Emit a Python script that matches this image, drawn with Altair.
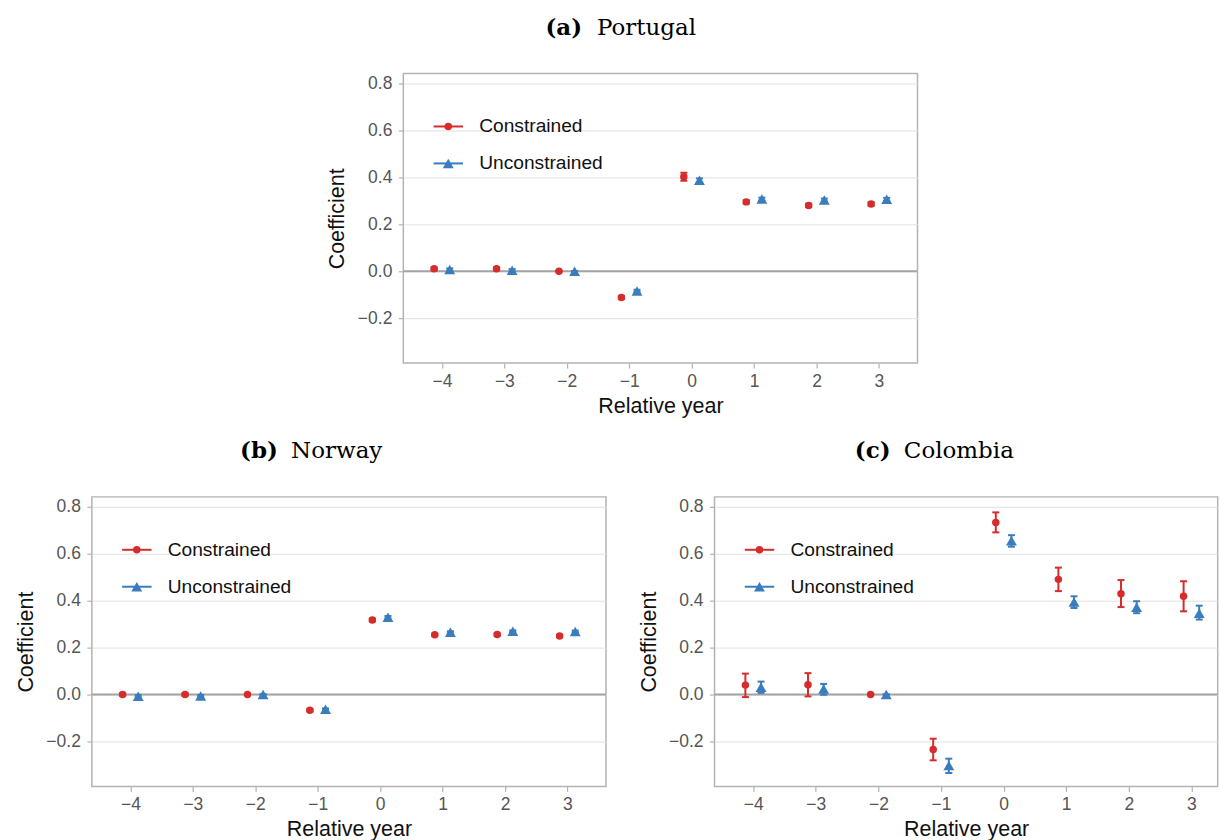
import altair as alt
import pandas as pd

# ---- shared settings -------------------------------------------------------
years = [-4, -3, -2, -1, 0, 1, 2, 3]
series_names = ["Constrained", "Unconstrained"]
series_colors = ["#d62c2c", "#3a7dbc"]
series_shapes = ["circle", "triangle-up"]
series_sizes = [56, 120]
y_ticks = [-0.2, 0.0, 0.2, 0.4, 0.6, 0.8]

# ---- (a) Portugal ----------------------------------------------------------
pt_con = [0.010, 0.010, 0.000, -0.112, 0.402, 0.295, 0.280, 0.286]
pt_con_lo = [0.004, 0.004, 0.000, -0.118, 0.385, 0.288, 0.273, 0.279]
pt_con_hi = [0.016, 0.016, 0.000, -0.106, 0.419, 0.302, 0.287, 0.293]
pt_unc = [0.007, 0.004, 0.000, -0.084, 0.387, 0.307, 0.303, 0.306]
pt_unc_lo = [0.002, -0.001, 0.000, -0.089, 0.379, 0.301, 0.297, 0.300]
pt_unc_hi = [0.012, 0.009, 0.000, -0.079, 0.395, 0.313, 0.309, 0.312]

# ---- (b) Norway ------------------------------------------------------------
no_con = [0.000, 0.000, 0.000, -0.067, 0.317, 0.254, 0.255, 0.249]
no_con_lo = [-0.005, -0.005, 0.000, -0.072, 0.311, 0.249, 0.250, 0.244]
no_con_hi = [0.005, 0.005, 0.000, -0.062, 0.323, 0.259, 0.260, 0.254]
no_unc = [-0.007, -0.006, 0.000, -0.063, 0.329, 0.265, 0.269, 0.268]
no_unc_lo = [-0.011, -0.010, 0.000, -0.067, 0.324, 0.261, 0.265, 0.264]
no_unc_hi = [-0.003, -0.002, 0.000, -0.059, 0.334, 0.269, 0.273, 0.272]

# ---- (c) Colombia ----------------------------------------------------------
co_con = [0.040, 0.042, 0.000, -0.234, 0.732, 0.490, 0.429, 0.418]
co_con_lo = [-0.011, -0.008, 0.000, -0.280, 0.690, 0.440, 0.372, 0.354]
co_con_hi = [0.089, 0.091, 0.000, -0.188, 0.775, 0.540, 0.487, 0.482]
co_unc = [0.031, 0.023, 0.000, -0.302, 0.654, 0.394, 0.371, 0.346]
co_unc_lo = [0.007, -0.001, 0.000, -0.334, 0.629, 0.368, 0.346, 0.319]
co_unc_hi = [0.055, 0.045, 0.000, -0.273, 0.678, 0.418, 0.397, 0.378]

SANS = "Liberation Sans"
SERIF = "DejaVu Serif"
PANEL_H = 290


def panel(letter, country, con, unc, x_max, width, letter_x, name_x):
    rows = []
    for name, (vals, lo, hi) in zip(series_names, (con, unc)):
        for yr, v, l, h in zip(years, vals, lo, hi):
            rows.append({"year": yr, "series": name, "coef": v, "lo": l, "hi": h})
    df = pd.DataFrame(rows)

    xscale = alt.Scale(domain=[-4.618, x_max], nice=False, zero=False)
    yscale = alt.Scale(domain=[-0.391, 0.841], nice=False, zero=False)
    xaxis = alt.Axis(values=years, format="d", title="Relative year")
    yaxis = alt.Axis(values=y_ticks, format=".1f", title="Coefficient")
    color = alt.Color("series:N", scale=alt.Scale(domain=series_names, range=series_colors), legend=None)
    X = alt.X("xpos:Q", scale=xscale, axis=xaxis)

    # dodge the two estimates around each relative year
    base = alt.Chart(df).transform_calculate(
        xpos="datum.year + (datum.series === 'Constrained' ? -0.125 : 0.125)"
    )

    zero = alt.Chart(pd.DataFrame({"zero": [0.0]})).mark_rule(
        color="#a3a3a3", strokeWidth=2
    ).encode(y=alt.Y("zero:Q", scale=yscale, axis=yaxis))

    err = base.mark_rule(strokeWidth=2).encode(
        x=X, y=alt.Y("lo:Q", scale=yscale, axis=yaxis), y2="hi:Q", color=color
    )
    caps = [
        base.mark_point(shape="M-1,0L1,0", filled=False, size=49, strokeWidth=2, opacity=1).encode(
            x=X, y=alt.Y(f"{end}:Q", scale=yscale, axis=yaxis), color=color
        )
        for end in ("lo", "hi")
    ]
    pts = base.mark_point(filled=True, opacity=1).encode(
        x=X,
        y=alt.Y("coef:Q", scale=yscale, axis=yaxis),
        color=color,
        shape=alt.Shape("series:N", scale=alt.Scale(domain=series_names, range=series_shapes), legend=None),
        size=alt.Size("series:N", scale=alt.Scale(domain=series_names, range=series_sizes), legend=None),
    )

    # in-plot legend: short line with marker, then the label
    legend = []
    for i, (name, col, shp, sz) in enumerate(zip(series_names, series_colors, series_shapes, series_sizes)):
        ly = 53 + 37 * i
        ldf = pd.DataFrame({"label": [name]})
        legend.append(
            alt.Chart(ldf).mark_rule(color=col, strokeWidth=2).encode(
                x=alt.value(30.3), x2=alt.value(59.8), y=alt.value(ly)
            )
        )
        legend.append(
            alt.Chart(ldf).mark_point(filled=True, opacity=1, color=col, shape=shp, size=sz).encode(
                x=alt.value(45), y=alt.value(ly)
            )
        )
        legend.append(
            alt.Chart(ldf).mark_text(
                align="left", baseline="middle", font=SANS, fontSize=19.2, color="#111111"
            ).encode(x=alt.value(76), y=alt.value(ly), text="label:N")
        )

    # panel heading: bold letter followed by the country name
    head_letter = alt.Chart(pd.DataFrame({"t": [f"({letter})"]})).mark_text(
        align="right", baseline="alphabetic", font=SERIF, fontWeight="bold", fontSize=23, color="#000000"
    ).encode(x=alt.value(letter_x), y=alt.value(-38.7), text="t:N")
    head_name = alt.Chart(pd.DataFrame({"t": [country]})).mark_text(
        align="left", baseline="alphabetic", font=SERIF, fontSize=23, color="#000000"
    ).encode(x=alt.value(name_x), y=alt.value(-38.7), text="t:N")

    return alt.layer(zero, err, *caps, pts, *legend, head_letter, head_name).properties(
        width=width, height=PANEL_H
    )


portugal = panel("a", "Portugal", (pt_con, pt_con_lo, pt_con_hi), (pt_unc, pt_unc_lo, pt_unc_hi),
                 3.618, 515, 179, 194)
norway = panel("b", "Norway", (no_con, no_con_lo, no_con_hi), (no_unc, no_unc_lo, no_unc_hi),
               3.618, 515, 186.3, 199.6)
colombia = panel("c", "Colombia", (co_con, co_con_lo, co_con_hi), (co_unc, co_unc_lo, co_unc_hi),
                 3.42, 504, 176.3, 189.6)

spacer = alt.Chart(pd.DataFrame({"v": [0]})).mark_point(opacity=0).encode(
    x=alt.value(0), y=alt.value(0)
).properties(width=311.4, height=PANEL_H, view=alt.ViewBackground(strokeOpacity=0))

top_row = alt.hconcat(spacer, portugal, spacing=0, bounds="flush")
bottom_row = alt.hconcat(norway, colombia, spacing=108.7, bounds="flush")

chart = alt.vconcat(top_row, bottom_row, spacing=21, bounds="full").configure(
    padding={"top": 15, "left": 14, "right": 0, "bottom": 0}, background="white"
).configure_view(
    stroke="#b3b3b3", strokeWidth=1.5
).configure_axis(
    labelFont=SANS, labelFontSize=17.5, labelColor="#555555",
    titleFont=SANS, titleFontSize=21.5, titleFontWeight="normal", titleColor="#111111",
    domain=False, tickColor="#b3b3b3", tickSize=5, tickWidth=1.2,
    gridColor="#e2e2e2", gridWidth=1,
).configure_axisX(
    grid=False, labelPadding=4, titleY=49.5, titleBaseline="alphabetic"
).configure_axisY(
    grid=True, labelPadding=6.5, titleX=-59.6, titleY=145, titleBaseline="alphabetic"
)

chart.save("out.html", embed_options={"renderer": "svg", "actions": False})
